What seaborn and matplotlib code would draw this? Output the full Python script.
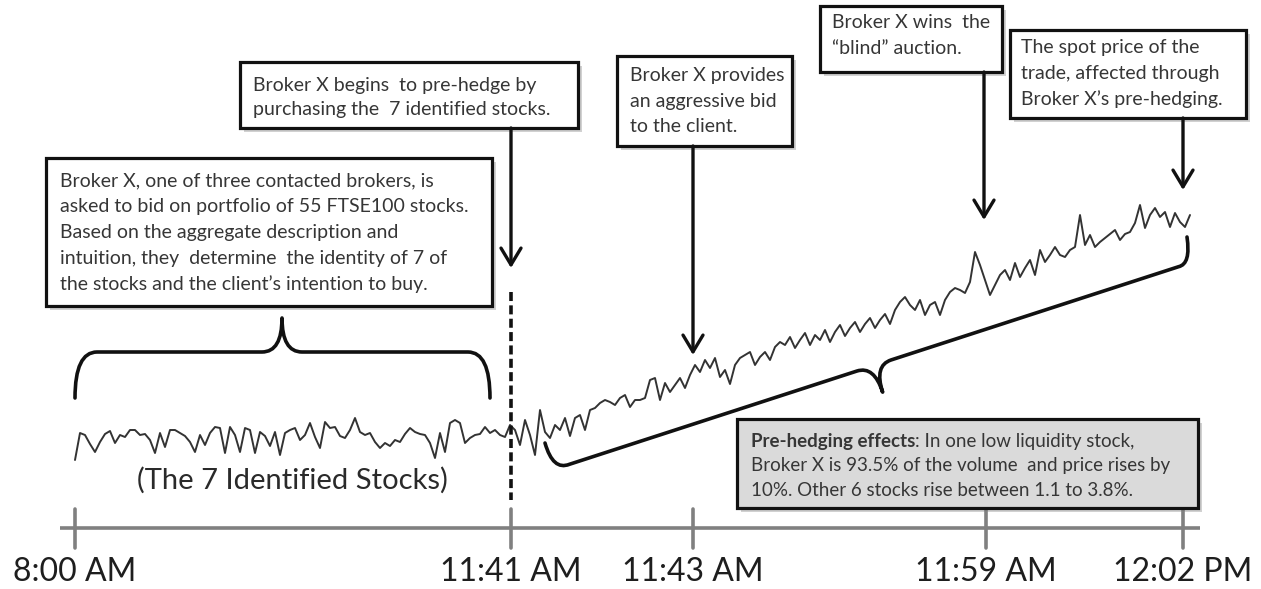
import numpy as np
import pandas as pd
import matplotlib
matplotlib.use("Agg")
import matplotlib.pyplot as plt
import seaborn as sns
from matplotlib.patches import Rectangle, PathPatch
from matplotlib.path import Path

# relative price level of the 7 stocks, one sample every step (schematic)
flat_levels = [0, 27, 25, 16, 8, 18, 26, 29, 17, 25,
               23, 30, 30, 25, 26, 20, 7, 27, 13, 30,
               30, 27, 24, 18, 8, 25, 15, 27, 33, 32,
               7, 33, 25, 8, 32, 30, 7, 28, 24, 14,
               28, 5, 27, 30, 32, 20, 25, 37, 23, 12,
               38, 32, 33, 24, 22, 30, 42, 28, 25, 27,
               18, 12, 17, 14, 20, 18, 26, 32, 28, 26,
               25, 17, 2, 27, 8, 37, 40, 37, 17, 22,
               25, 26, 33, 27, 30, 25, 23, 35]
rally_levels = [30, 15, 40, 25, 5, 50, 28, 22, 35, 30,
                42, 24, 42, 45, 30, 50, 52, 57, 60, 58,
                55, 62, 65, 53, 60, 60, 62, 80, 82, 60,
                77, 68, 75, 82, 72,
                85, 95, 88, 100, 92, 102, 83, 90, 76, 95,
                102, 105, 108, 95, 103, 108, 100, 113, 118,
                115, 123, 112, 120, 127, 115, 125, 120, 130, 118,
                128, 135, 124, 132, 138, 128, 136, 142, 132, 140,
                146, 136, 150, 158, 163, 155, 150, 160, 145, 155,
                158, 145, 160, 168, 172, 170, 167, 178, 208, 195,
                180, 165, 175, 185, 190, 180, 197, 183, 192, 200,
                185, 210, 198, 205, 213, 205, 203, 210, 213, 245,
                215, 225, 213, 218, 222, 226, 230, 220, 226, 228,
                237, 255, 232, 245, 252, 243, 248, 233, 247, 238,
                233, 245]
levels = flat_levels + rally_levels

tick_labels = ["8:00 AM", "11:41 AM", "11:43 AM", "11:59 AM", "12:02 PM"]
tick_px = [75, 511, 693, 986, 1183]

sns.set_style("white")
plt.rcParams['font.family'] = ['Lato', 'DejaVu Sans']

fig = plt.figure(figsize=(12.61, 5.89), dpi=100)

# price line
ax_p = fig.add_axes([0, 0, 1, 1])
df = pd.DataFrame({'step': np.arange(len(levels)), 'level': levels})
sns.lineplot(data=df, x='step', y='level', ax=ax_p, color='#333333', lw=1.4)
ax_p.set_xlim(-15, (1261 - 75) / 5)
ax_p.set_ylim(-129, 460)
ax_p.axis('off')

# overlay in pixel units for the annotations
ax = fig.add_axes([0, 0, 1, 1])
ax.set_xlim(0, 1261)
ax.set_ylim(589, 0)
ax.axis('off')

TXT = '#363636'
FS = 14


def box(x0, y0, x1, y1, face='white'):
    ax.add_patch(Rectangle((x0 + 4, y0 + 4), x1 - x0, y1 - y0, fc='#9a9a9a',
                           ec='none', alpha=0.45, zorder=2))
    ax.add_patch(Rectangle((x0, y0), x1 - x0, y1 - y0, fc=face, ec='#111111',
                           lw=2.3, zorder=3))


def lines(x, y, texts, gap, size=FS):
    for i, t in enumerate(texts):
        ax.text(x, y + i * gap, t, fontsize=size, color=TXT, va='center',
                ha='left', zorder=4)


def arrow(x, y0, y1):
    ax.annotate('', xy=(x, y1), xytext=(x, y0),
                arrowprops=dict(arrowstyle='->,head_length=0.5,head_width=0.3',
                                lw=2.4, color='#111111', shrinkA=0, shrinkB=0,
                                mutation_scale=24), zorder=3)


box(46, 158, 492, 306)
lines(60, 181, ["Broker X, one of three contacted brokers, is",
                "asked to bid on portfolio of 55 FTSE100 stocks.",
                "Based on the aggregate description and",
                "intuition, they  determine  the identity of 7 of",
                "the stocks and the client\u2019s intention to buy."], 25.8)

box(240, 62, 578, 128)
lines(253, 85, ["Broker X begins  to pre-hedge by",
                "purchasing the  7 identified stocks."], 25)
arrow(511, 128, 268)

box(617, 56, 792, 146)
lines(630, 75, ["Broker X provides", "an aggressive bid", "to the client."], 26)
arrow(693, 146, 355)

box(820, 6, 1002, 72)
lines(832, 22, ["Broker X wins  the", "\u201cblind\u201d auction."], 26)
arrow(984, 72, 220)

box(1010, 30, 1246, 118)
lines(1021, 48, ["The spot price of the", "trade, affected through",
                 "Broker X\u2019s pre-hedging."], 25.5)
arrow(1183, 118, 190)

GFS = 13.5
box(737, 419, 1198, 508, face='#dadada')
t = ax.text(751, 442, "Pre-hedging effects", fontsize=GFS, color=TXT,
            weight='bold', va='center', ha='left', zorder=4)
fig.canvas.draw()
bb = t.get_window_extent()
ax.text(bb.x1, 442, ": In one low liquidity stock,", fontsize=GFS, color=TXT,
        va='center', ha='left', zorder=4)
lines(751, 466, ["Broker X is 93.5% of the volume  and price rises by",
                 "10%. Other 6 stocks rise between 1.1 to 3.8%."], 24, size=GFS)

ax.text(292, 480, "(The 7 Identified Stocks)", fontsize=21, color='#2a2a2a',
        ha='center', va='center')

# dashed start of pre-hedging
ax.plot([511, 511], [292, 500], color='#111111', lw=2.6, dashes=(2.5, 1.2))

# left brace over the quiet period
V = [(75, 398), (75, 352), (97, 352), (262, 352), (282, 352), (282, 318),
     (282, 352), (302, 352), (468, 352), (490, 352), (490, 398)]
C = [Path.MOVETO, Path.CURVE3, Path.CURVE3, Path.LINETO, Path.CURVE3,
     Path.CURVE3, Path.CURVE3, Path.CURVE3, Path.LINETO, Path.CURVE3, Path.CURVE3]
ax.add_patch(PathPatch(Path(V, C), fill=False, lw=2.6, ec='#111111',
                       capstyle='round', joinstyle='round'))

# slanted brace under the rally
A = np.array([545, 443]); B = np.array([558, 468]); F = np.array([1190, 263])
G = np.array([1187, 237])
u = (F - B) / np.linalg.norm(F - B)
n = np.array([-u[1], u[0]])
if n[1] < 0:
    n = -n
M = B + u * np.linalg.norm(F - B) / 2
V = [A, (553, 471), B + u * 12, M - u * 18, M, M + n * 28, M, M + u * 18,
     F - u * 12, (1191, 264), G]
C = [Path.MOVETO, Path.CURVE3, Path.CURVE3, Path.LINETO, Path.CURVE3,
     Path.CURVE3, Path.CURVE3, Path.CURVE3, Path.LINETO, Path.CURVE3, Path.CURVE3]
ax.add_patch(PathPatch(Path(V, C), fill=False, lw=2.6, ec='#111111',
                       capstyle='round', joinstyle='round'))

# time line
ax.plot([60, 1200], [528, 528], color='#808080', lw=2.6, solid_capstyle='butt')
for p, lab in zip(tick_px, tick_labels):
    ax.plot([p, p], [509, 548], color='#808080', lw=2.6)
    ax.text(p, 572, lab, ha='center', va='center', fontsize=23, color='#1e1e1e')

fig.savefig('out.png', dpi=100)
